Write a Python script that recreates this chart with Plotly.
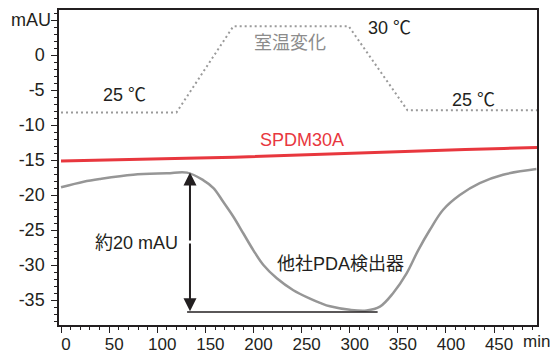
import plotly.graph_objects as go

# --- data ---
temp_t = [0, 120, 179, 299, 360, 495]
temp_v = [-8.2, -8.2, 4.1, 4.1, -7.9, -7.9]

spdm_t = [0, 40, 90, 130, 180, 230, 280, 330, 370, 420, 460, 495]
spdm_v = [-15.15, -15.0, -14.85, -14.75, -14.6, -14.35, -14.1, -13.9, -13.7, -13.5, -13.35, -13.2]

pda_t = [0, 23.5, 40.8, 75, 110, 131, 148, 158.4, 168.7, 179.1, 189.5, 199.9, 210.3, 224.2,
         241.4, 258.7, 269.1, 279.5, 300.2, 317.6, 331.4, 345.2, 359.1, 371.1, 383.2, 397.1,
         414.4, 435.1, 459.3, 494]
pda_v = [-18.9, -18.1, -17.7, -17.1, -16.9, -16.8, -17.9, -19.0, -21.0, -23.1, -25.5, -27.9,
         -30.0, -31.9, -33.6, -34.8, -35.4, -35.9, -36.4, -36.5, -35.95, -34.0, -31.2, -27.9,
         -25.0, -22.1, -20.0, -18.3, -17.1, -16.3]

x_ticks = [0, 50, 100, 150, 200, 250, 300, 350, 400, 450]
y_ticks = [5, 0, -5, -10, -15, -20, -25, -30, -35]
y_tick_text = ["", "0", "-5", "-10", "-15", "-20", "-25", "-30", "-35"]

arrow_t = 134
arrow_top = -16.8
arrow_bottom = -36.6
base_t = [131, 329]
base_v = -36.7

labels = [
    ("25 ℃", 65.7, -5.7, "#231f20"),
    ("室温変化", 238, 1.7, "#8c8c8c"),
    ("30 ℃", 341.7, 3.8, "#231f20"),
    ("25 ℃", 429, -6.4, "#231f20"),
    ("SPDM30A", 250, -12.1, "#e8373e"),
    ("約20 mAU", 78.8, -26.9, "#231f20"),
    ("他社PDA検出器", 290, -29.8, "#231f20"),
]

FONT = "Liberation Sans, Arial, Noto Sans CJK JP, sans-serif"
FS = 18

fig = go.Figure()
fig.add_trace(go.Scatter(x=temp_t, y=temp_v, mode="lines",
                         line=dict(color="#9a9a9a", width=2, dash="2px,3px"),
                         hoverinfo="skip"))
fig.add_trace(go.Scatter(x=spdm_t, y=spdm_v, mode="lines",
                         line=dict(color="#e8373e", width=3), hoverinfo="skip"))
fig.add_trace(go.Scatter(x=pda_t, y=pda_v, mode="lines", line_shape="spline",
                         line=dict(color="#969696", width=2.5), hoverinfo="skip"))
fig.add_trace(go.Scatter(x=base_t, y=[base_v, base_v], mode="lines",
                         line=dict(color="#231f20", width=1.5), hoverinfo="skip"))

mid = (arrow_top + arrow_bottom) / 2
for tip in (arrow_top, arrow_bottom):
    fig.add_annotation(x=arrow_t, y=tip, ax=arrow_t, ay=mid, axref="x", ayref="y",
                       xref="x", yref="y", text="", showarrow=True, arrowhead=2,
                       arrowsize=1.3, arrowwidth=2, arrowcolor="#231f20")

for txt, tx, ty, col in labels:
    fig.add_annotation(x=tx, y=ty, text=txt, showarrow=False,
                       font=dict(family=FONT, size=FS, color=col))

fig.add_annotation(xref="paper", yref="y", x=0, y=5, xanchor="right", xshift=-6,
                   text="mAU", showarrow=False, font=dict(family=FONT, size=FS, color="#231f20"))
fig.add_annotation(xref="paper", yref="y", x=0.966, y=-38.57, xanchor="left", yanchor="middle",
                   yshift=-16, text="min", showarrow=False,
                   font=dict(family=FONT, size=17, color="#231f20"))

fig.update_layout(
    width=554, height=354,
    margin=dict(l=59, r=17, t=10, b=29, autoexpand=False),
    paper_bgcolor="white", plot_bgcolor="white",
    showlegend=False,
    font=dict(family=FONT, size=FS, color="#231f20"),
    xaxis=dict(range=[-2.1, 494.6], showline=True, linecolor="#231f20", linewidth=1.5,
               mirror=True, ticks="outside", ticklen=6, tickwidth=1, tickcolor="#231f20",
               tickvals=x_ticks, showgrid=False, zeroline=False, automargin=False,
               tickfont=dict(size=17), ticklabelstandoff=-3, ticklabelshift=5,
               minor=dict(dtick=10, tick0=0, ticks="outside", ticklen=3, tickcolor="#231f20")),
    yaxis=dict(range=[-38.57, 6.43], showline=True, linecolor="#231f20", linewidth=1.5,
               mirror=True, ticks="outside", ticklen=6, tickwidth=1, tickcolor="#231f20",
               tickvals=y_ticks, ticktext=y_tick_text, showgrid=False, zeroline=False,
               automargin=False, ticklabelstandoff=3,
               minor=dict(dtick=1, tick0=0, ticks="outside", ticklen=3, tickcolor="#231f20")),
)

fig.write_html("out.html")
